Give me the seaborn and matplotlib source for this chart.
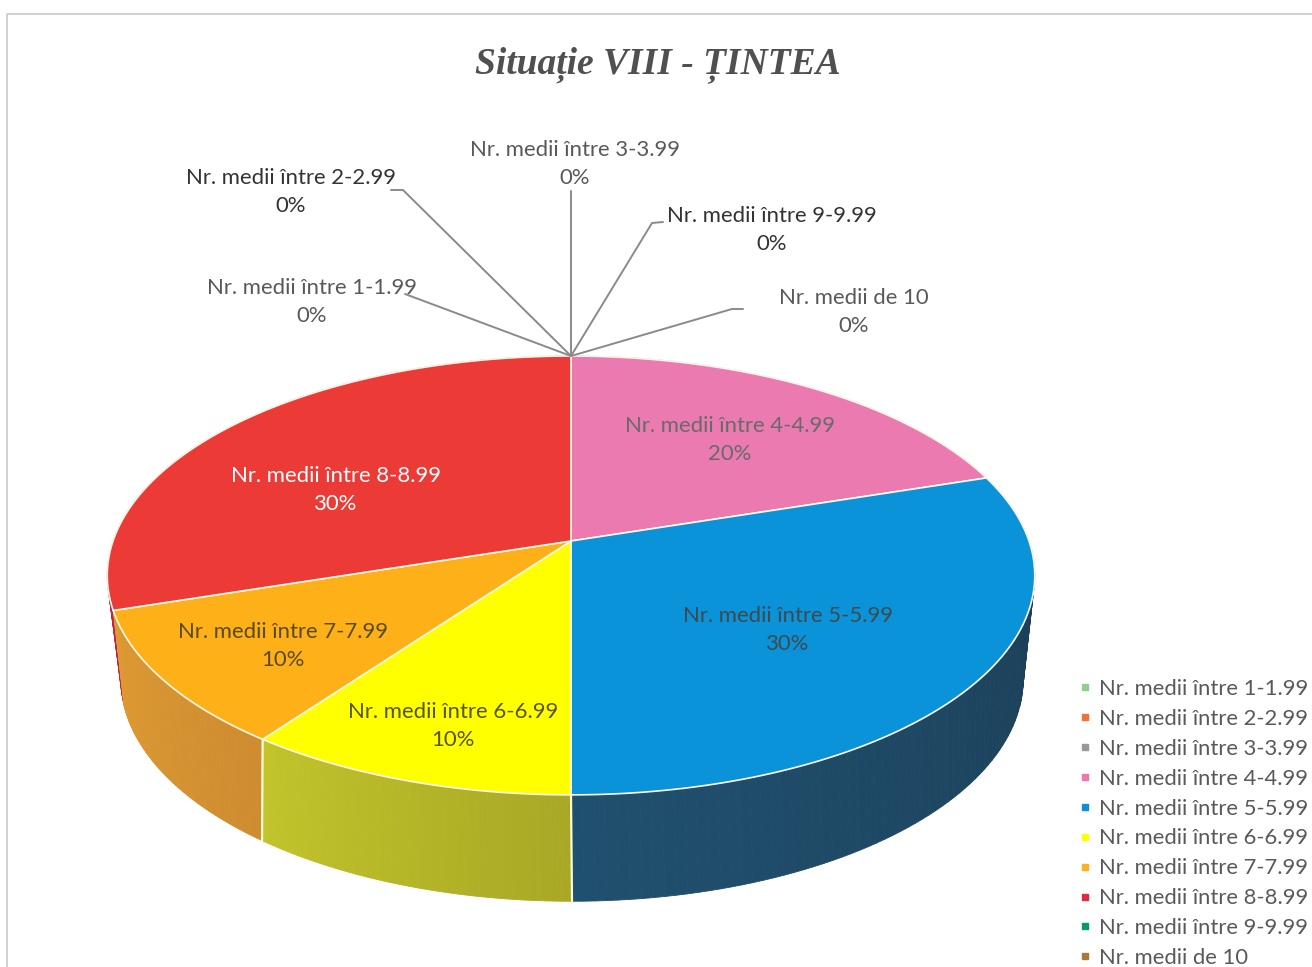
import numpy as np
import matplotlib
matplotlib.use("Agg")
import matplotlib.pyplot as plt
from matplotlib.lines import Line2D
import seaborn as sns

categorii = ["Nr. medii între 1-1.99", "Nr. medii între 2-2.99", "Nr. medii între 3-3.99",
             "Nr. medii între 4-4.99", "Nr. medii între 5-5.99", "Nr. medii între 6-6.99",
             "Nr. medii între 7-7.99", "Nr. medii între 8-8.99", "Nr. medii între 9-9.99",
             "Nr. medii de 10"]
procente = [0, 0, 0, 20, 30, 10, 10, 30, 0, 0]
culori = ["#8ed08f", "#f07038", "#999999", "#ea7ab0", "#0a93d8", "#ffff00",
          "#fdb017", "#ec3a36", "#059a70", "#a9783a"]
# peretii: culoarea la inceputul si la sfarsitul felii
culori_perete = {3: ("#b05a80", "#b05a80"), 4: ("#1a3a50", "#20506f"), 5: ("#a9a826", "#c2c42a"),
                 6: ("#cf8c30", "#dd9a32"), 7: ("#c8203f", "#c8203f")}
legenda_culori = ["#8ed08f", "#f07038", "#999999", "#ee78ac", "#0f8fd6", "#ffff00",
                  "#fdb022", "#e52840", "#059a70", "#a9783a"]

# pozitia etichetelor: x, y, culoare
etichete = [(312, 301.5, "#595959"), (291, 192.5, "#333333"), (575, 163.5, "#595959"),
            (730, 439.5, "#6a6a6a"), (788, 629.5, "#3f4a50"), (453, 726.5, "#55551f"),
            (283, 646.5, "#5a4a20"), (336, 489.5, "#ffffff"), (772, 230.5, "#333333"),
            (854, 312.5, "#595959")]
linii = [[(405, 294)], [(391, 190), (403, 190)], [(571, 191)],
         None, None, None, None, None,
         [(663, 222), (652, 223)], [(743, 309), (732, 309)]]

sns.set_theme(style="white")
plt.rcParams["font.family"] = ["Lato", "DejaVu Sans"]
paleta = sns.color_palette(culori)

fig = plt.figure(figsize=(13.12, 9.67), dpi=100)
ax = fig.add_axes([0, 0, 1, 1])
ax.set_xlim(0, 1312)
ax.set_ylim(967, 0)
ax.axis("off")


def sus(t):
    # fata de sus a discului, cu perspectiva
    x, y = np.sin(t), np.cos(t)
    w = 1 + 0.157 * y
    return 571 + 458 * x / w, 541 - 214 * y / w


def jos(t):
    x, y = np.sin(t), np.cos(t)
    w = 1 + 0.2 * y
    return 572 + 442 * x / w, 635 - 213 * y / w


limite = np.radians(np.cumsum([0] + procente) * 3.6)

# peretii, din spate spre fata, felie cu felie ca sa iasa si marginea tangenta
for i in [3, 7, 6, 4, 5]:
    t = np.linspace(limite[i], limite[i + 1], 90)
    nuante = sns.blend_palette(culori_perete[i], len(t) - 1)
    xs, ys = sus(t)
    xj, yj = jos(t)
    for k in range(len(t) - 1):
        ax.fill([xs[k], xs[k + 1], xj[k + 1], xj[k]], [ys[k], ys[k + 1], yj[k + 1], yj[k]],
                facecolor=nuante[k], edgecolor=nuante[k], lw=0.6)

for unghi in [limite[5], limite[6]]:
    a, b = sus(unghi), jos(unghi)
    ax.plot([a[0], b[0]], [a[1], b[1]], color="#fbfbd8", lw=1.6)

# fata de sus
for i, p in enumerate(procente):
    if p == 0:
        continue
    t = np.linspace(limite[i], limite[i + 1], 120)
    xs, ys = sus(t)
    ax.fill(np.r_[571, xs], np.r_[541, ys], facecolor=paleta[i], edgecolor="#fff8e8", lw=1.2)

# linii de legatura si etichete
for i, nume in enumerate(categorii):
    x, y, c = etichete[i]
    if linii[i] is not None:
        puncte = linii[i] + [(571, 356)]
        ax.plot([q[0] for q in puncte], [q[1] for q in puncte], color="#8a8a8a", lw=1.4, zorder=2)
    ax.text(x, y, f"{nume}\n{procente[i]}%", color=c, fontsize=15.9, ha="center", va="center",
            linespacing=1.5, zorder=3)

ax.text(658, 65, "Situație VIII - ȚINTEA", family=["Liberation Serif", "DejaVu Serif"],
        fontsize=27, fontweight="bold", fontstyle="italic", color="#505050", ha="center", va="center")

# chenarul scanat
ax.plot([6.5, 6.5, 1312], [967, 14, 14], color="#c8c8c8", lw=1.2)

handles = [Line2D([], [], ls="", marker="s", ms=5, color=c) for c in legenda_culori]
ax.legend(handles, categorii, loc="lower left", bbox_to_anchor=(1078, 968), bbox_transform=ax.transData,
          frameon=False, fontsize=15.8, labelcolor="#595959", labelspacing=0.45,
          handlelength=0.6, handletextpad=0.36, borderpad=0, borderaxespad=0)

fig.savefig("out.png", dpi=100, facecolor="white")
